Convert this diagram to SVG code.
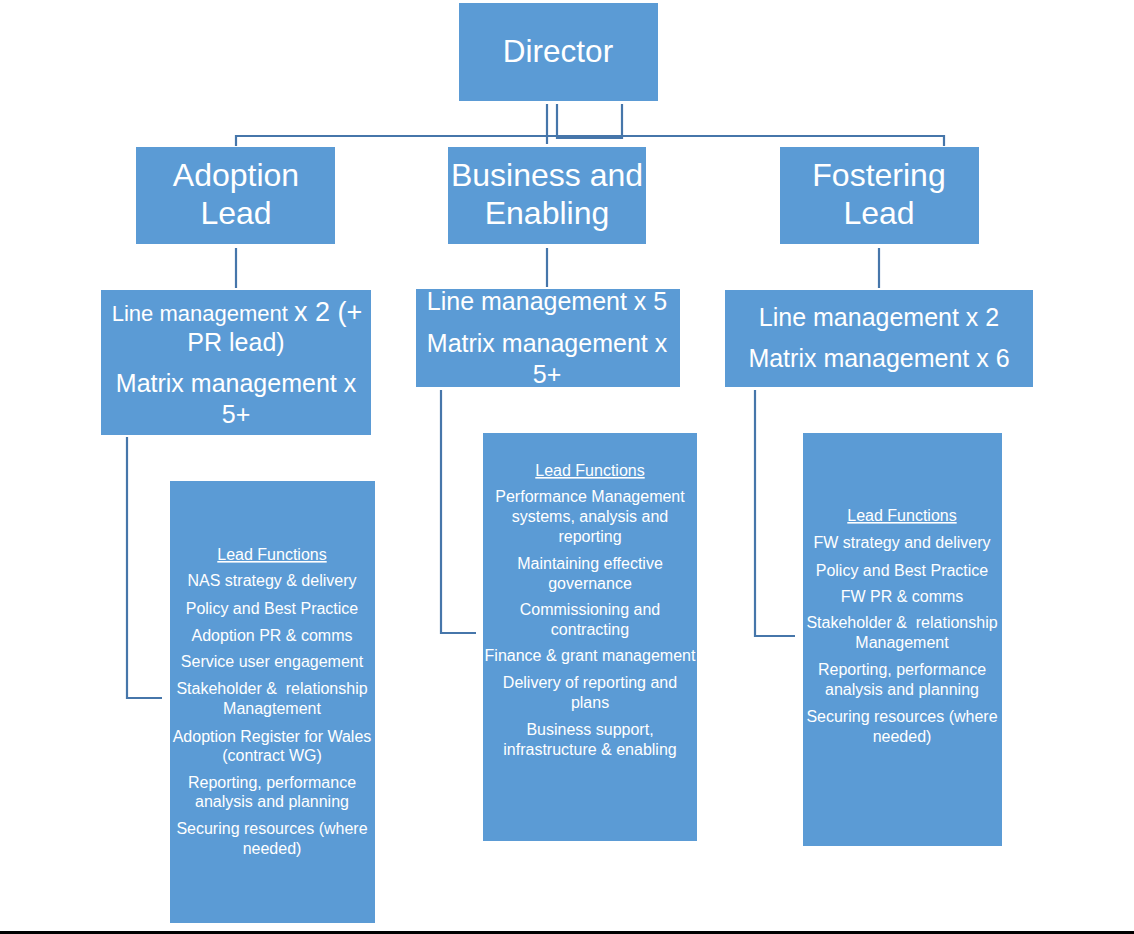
<svg xmlns="http://www.w3.org/2000/svg" width="1134" height="934" viewBox="0 0 1134 934">
<style>
.box{fill:#5B9BD5;}
.t{fill:#FFFFFF;font-family:"Liberation Sans",Arial,sans-serif;text-anchor:middle;}
.h{font-size:32px;}
.m{font-size:25px;}
.f{font-size:16px;}
.u{text-decoration:underline;}
.c{fill:none;stroke:#4676AA;stroke-width:2.2;}
</style>
<rect x="0" y="0" width="1134" height="934" fill="#FFFFFF"/>
<g id="connectors">
<polyline class="c" points="236,146 236,136 944,136 944,146"/>
<line class="c" x1="547" y1="104" x2="547" y2="144"/>
<polyline class="c" points="557,104 557,138 622,138 622,104"/>
<line class="c" x1="236" y1="248" x2="236" y2="288"/>
<line class="c" x1="547" y1="248" x2="547" y2="287"/>
<line class="c" x1="879" y1="248" x2="879" y2="288"/>
<polyline class="c" points="127,437 127,698 162,698"/>
<polyline class="c" points="441,390 441,633 476,633"/>
<polyline class="c" points="755,390 755,636 795,636"/>
</g>
<g id="director">
<rect class="box" x="459" y="3" width="199" height="98"/>
<text class="t" x="558" y="62" font-size="31.5">Director</text>
</g>
<g id="adoption-lead">
<rect class="box" x="136" y="147" width="199" height="97"/>
<text class="t h" x="236" y="186" font-size="33">Adoption</text>
<text class="t h" x="236" y="224" font-size="33">Lead</text>
</g>
<g id="business-enabling">
<rect class="box" x="448" y="147" width="198" height="97"/>
<text class="t h" x="547" y="186" font-size="31">Business and</text>
<text class="t h" x="547" y="224" font-size="31">Enabling</text>
</g>
<g id="fostering-lead">
<rect class="box" x="780" y="147" width="199" height="97"/>
<text class="t h" x="879" y="186" font-size="33">Fostering</text>
<text class="t h" x="879" y="224" font-size="33">Lead</text>
</g>
<g id="adoption-management">
<rect class="box" x="101" y="290" width="270" height="145"/>
<text class="t" x="237" y="321"><tspan font-size="22">Line management </tspan><tspan font-size="27">x 2 (+</tspan></text>
<text class="t m" x="236" y="351">PR lead)</text>
<text class="t m" x="236" y="392">Matrix management x</text>
<text class="t m" x="236" y="423">5+</text>
</g>
<g id="business-management">
<rect class="box" x="416" y="289" width="264" height="98"/>
<text class="t m" x="547" y="310">Line management x 5</text>
<text class="t m" x="547" y="352">Matrix management x</text>
<text class="t m" x="547" y="383">5+</text>
</g>
<g id="fostering-management">
<rect class="box" x="725" y="290" width="308" height="97"/>
<text class="t m" x="879" y="326">Line management x 2</text>
<text class="t m" x="879" y="367">Matrix management x 6</text>
</g>
<g id="adoption-functions">
<rect class="box" x="170" y="481" width="205" height="442"/>
<text class="t f u" x="272" y="560">Lead Functions</text>
<text class="t f" x="272" y="586">NAS strategy &amp; delivery</text>
<text class="t f" x="272" y="614">Policy and Best Practice</text>
<text class="t f" x="272" y="641">Adoption PR &amp; comms</text>
<text class="t f" x="272" y="667">Service user engagement</text>
<text class="t f" x="272" y="694">Stakeholder &amp;&#160; relationship</text>
<text class="t f" x="272" y="714">Managtement</text>
<text class="t f" x="272" y="742">Adoption Register for Wales</text>
<text class="t f" x="272" y="761">(contract WG)</text>
<text class="t f" x="272" y="788">Reporting, performance</text>
<text class="t f" x="272" y="807">analysis and planning</text>
<text class="t f" x="272" y="834">Securing resources (where</text>
<text class="t f" x="272" y="854">needed)</text>
</g>
<g id="business-functions">
<rect class="box" x="483" y="433" width="214" height="408"/>
<text class="t f u" x="590" y="476">Lead Functions</text>
<text class="t f" x="590" y="502">Performance Management</text>
<text class="t f" x="590" y="522">systems, analysis and</text>
<text class="t f" x="590" y="542">reporting</text>
<text class="t f" x="590" y="569">Maintaining effective</text>
<text class="t f" x="590" y="589">governance</text>
<text class="t f" x="590" y="615">Commissioning and</text>
<text class="t f" x="590" y="635">contracting</text>
<text class="t f" x="590" y="661">Finance &amp; grant management</text>
<text class="t f" x="590" y="688">Delivery of reporting and</text>
<text class="t f" x="590" y="708">plans</text>
<text class="t f" x="590" y="735">Business support,</text>
<text class="t f" x="590" y="755">infrastructure &amp; enabling</text>
</g>
<g id="fostering-functions">
<rect class="box" x="803" y="433" width="199" height="413"/>
<text class="t f u" x="902" y="521">Lead Functions</text>
<text class="t f" x="902" y="548">FW strategy and delivery</text>
<text class="t f" x="902" y="576">Policy and Best Practice</text>
<text class="t f" x="902" y="602">FW PR &amp; comms</text>
<text class="t f" x="902" y="628">Stakeholder &amp;&#160; relationship</text>
<text class="t f" x="902" y="648">Management</text>
<text class="t f" x="902" y="675">Reporting, performance</text>
<text class="t f" x="902" y="695">analysis and planning</text>
<text class="t f" x="902" y="722">Securing resources (where</text>
<text class="t f" x="902" y="742">needed)</text>
</g>
<rect x="0" y="931" width="1134" height="3" fill="#000000"/>
</svg>
